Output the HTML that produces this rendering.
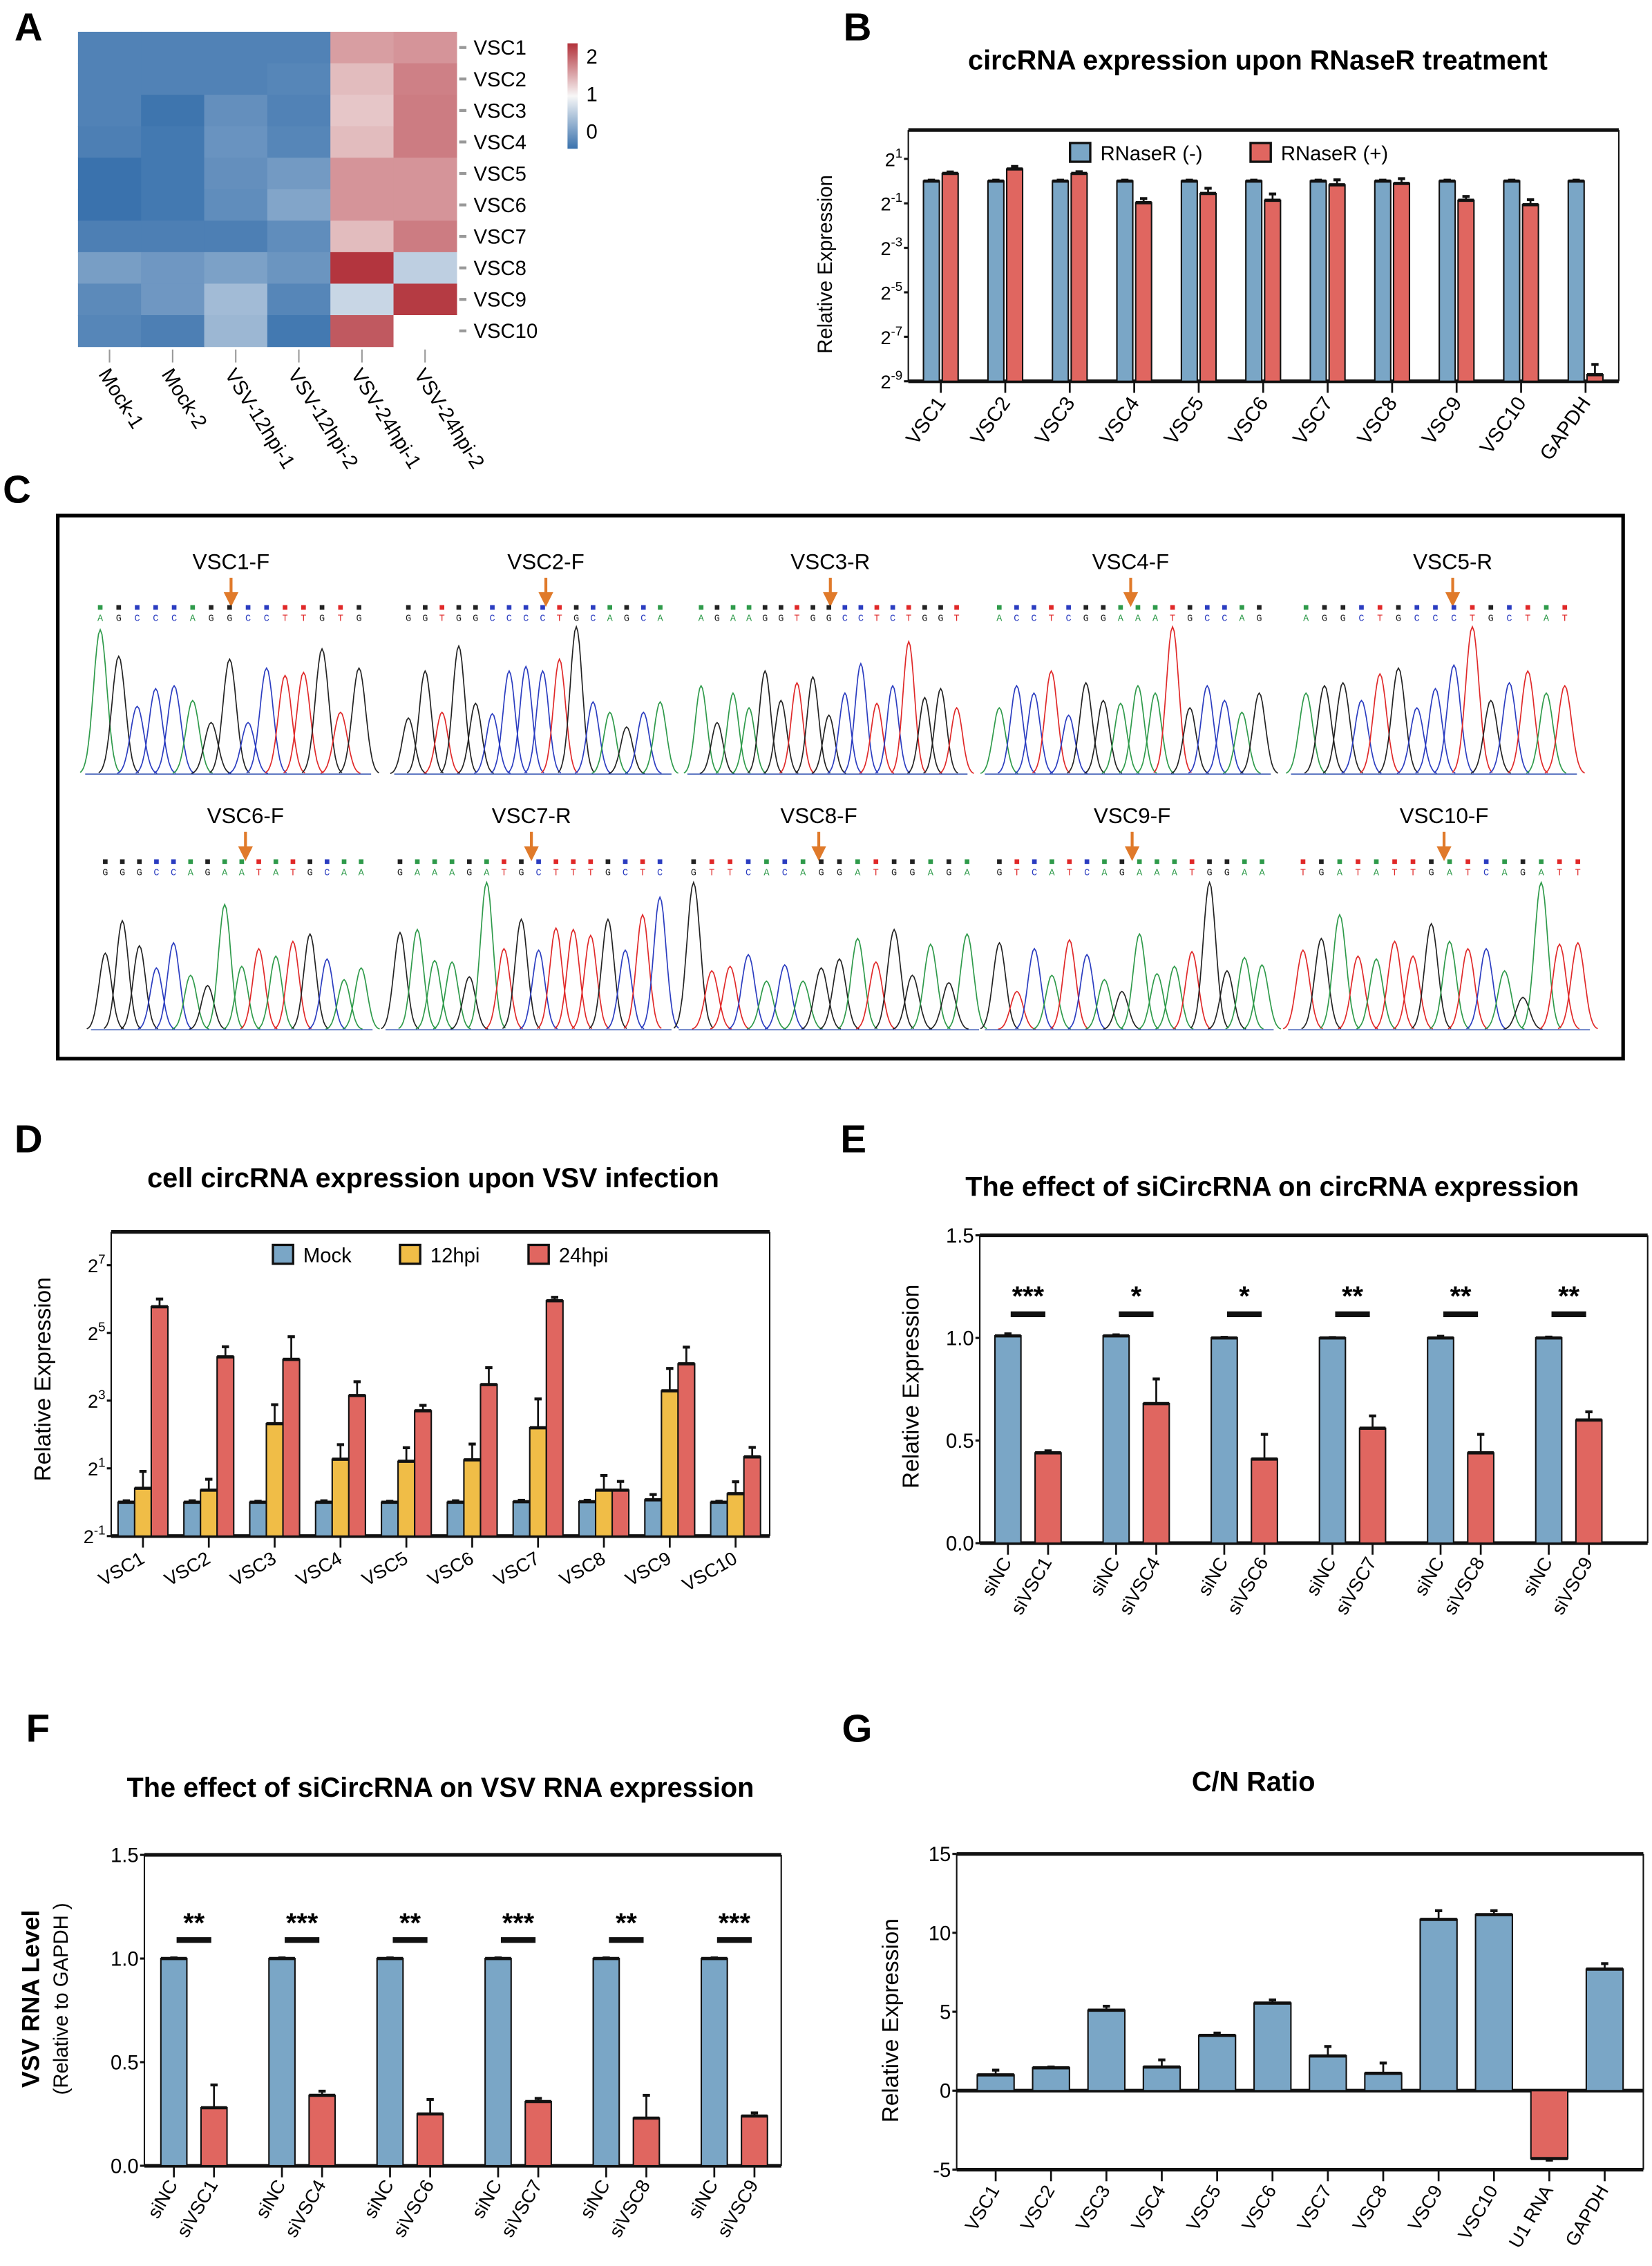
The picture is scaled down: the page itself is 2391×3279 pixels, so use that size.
<!DOCTYPE html>
<html><head><meta charset="utf-8">
<style>
html,body{margin:0;padding:0;background:#fff;}
body{width:2391px;height:3279px;overflow:hidden;}
svg{display:block;font-family:"Liberation Sans",Arial,sans-serif;}
</style></head>
<body>
<svg id="fig" width="2391" height="3279" viewBox="0 0 1144 1569" preserveAspectRatio="none" xmlns="http://www.w3.org/2000/svg">
<defs>
<linearGradient id="cbar" x1="0" y1="0" x2="0" y2="1">
<stop offset="0" stop-color="#b2313a"/><stop offset="0.5" stop-color="#f7f7f7"/><stop offset="1" stop-color="#3a72ad"/>
</linearGradient>
</defs>
<g font-weight="bold" font-size="27">
<text x="10" y="28">A</text>
<text x="584" y="28">B</text>
<text x="2" y="348">C</text>
<text x="10" y="798">D</text>
<text x="582" y="798">E</text>
<text x="18" y="1206">F</text>
<text x="583" y="1206">G</text>
</g>
<g font-weight="bold" font-size="19" text-anchor="middle">
<text x="871" y="48">circRNA expression upon RNaseR treatment</text>
<text x="300" y="822">cell circRNA expression upon VSV infection</text>
<text x="881" y="828">The effect of siCircRNA on circRNA expression</text>
<text x="305" y="1244">The effect of siCircRNA on VSV RNA expression</text>
<text x="868" y="1240">C/N Ratio</text>
</g>
<rect x="40" y="357" width="1084" height="376" fill="none" stroke="#000" stroke-width="2.5"/>
<g id="root"></g>
</svg>
<script>
// ===== Panel A heatmap data =====
const hmRows=["VSC1","VSC2","VSC3","VSC4","VSC5","VSC6","VSC7","VSC8","VSC9","VSC10"];
const hmCols=["Mock-1","Mock-2","VSV-12hpi-1","VSV-12hpi-2","VSV-24hpi-1","VSV-24hpi-2"];
const hmVals=[
[0.12,0.12,0.12,0.12,1.45,1.5],
[0.12,0.12,0.12,0.15,1.3,1.6],
[0.12,0.02,0.22,0.12,1.25,1.62],
[0.1,0.05,0.25,0.15,1.3,1.62],
[0.0,0.05,0.22,0.3,1.5,1.5],
[0.0,0.05,0.2,0.38,1.5,1.5],
[0.1,0.1,0.1,0.2,1.3,1.62],
[0.33,0.28,0.35,0.26,1.98,0.7],
[0.18,0.28,0.55,0.15,0.75,1.95],
[0.15,0.1,0.52,0.05,1.8,null]];
// ===== Panel B data =====
const bCats=["VSC1","VSC2","VSC3","VSC4","VSC5","VSC6","VSC7","VSC8","VSC9","VSC10","GAPDH"];
const bNeg=[1,1,1,1,1,1,1,1,1,1,1];
const bNegErr=[0.03,0.03,0.03,0.03,0.03,0.03,0.03,0.03,0.03,0.03,0.03];
const bPos=[1.27,1.46,1.27,0.51,0.68,0.55,0.89,0.93,0.55,0.48,0.0024];
const bPosErr=[0.06,0.12,0.07,0.07,0.12,0.12,0.15,0.15,0.07,0.08,0.0009];
const bTickExp=[1,-1,-3,-5,-7,-9];
// ===== Panel D data =====
const dCats=["VSC1","VSC2","VSC3","VSC4","VSC5","VSC6","VSC7","VSC8","VSC9","VSC10"];
const dMock=[1,1,1,1,1,1,1.01,1.01,1.05,1];
const dMockErr=[0.03,0.03,0.02,0.03,0.02,0.03,0.03,0.03,0.12,0.02];
const d12=[1.33,1.28,4.99,2.41,2.31,2.38,4.59,1.28,9.78,1.19];
const d12Err=[0.55,0.32,2.37,0.84,0.74,0.91,3.69,0.45,5.67,0.33];
const d24=[54.6,19.6,18.6,8.88,6.5,11.1,61.8,1.28,17.0,2.53];
const d24Err=[9.4,4.5,11,2.9,0.76,4.6,4.5,0.25,6.9,0.54];
const dTickExp=[7,5,3,1,-1];
// ===== Panel E data =====
const eGroups=["siVSC1","siVSC4","siVSC6","siVSC7","siVSC8","siVSC9"];
const eNC=[1.01,1.01,1.0,1.0,1.0,1.0];
const eNCErr=[0.01,0.005,0.003,0.002,0.008,0.004];
const eSi=[0.44,0.68,0.41,0.56,0.44,0.60];
const eSiErr=[0.01,0.12,0.12,0.06,0.09,0.04];
const eStars=["***","*","*","**","**","**"];
const eTicks=[0,0.5,1.0,1.5];
// ===== Panel F data =====
const fGroups=["siVSC1","siVSC4","siVSC6","siVSC7","siVSC8","siVSC9"];
const fNC=[1.0,1.0,1.0,1.0,1.0,1.0];
const fNCErr=[0.003,0.003,0.003,0.003,0.003,0.003];
const fSi=[0.28,0.34,0.25,0.31,0.23,0.24];
const fSiErr=[0.11,0.02,0.07,0.015,0.11,0.015];
const fStars=["**","***","**","***","**","***"];
const fTicks=[0,0.5,1.0,1.5];
// ===== Panel G data =====
const gCats=["VSC1","VSC2","VSC3","VSC4","VSC5","VSC6","VSC7","VSC8","VSC9","VSC10","U1 RNA","GAPDH"];
const gVals=[1.0,1.45,5.1,1.5,3.5,5.55,2.2,1.1,10.85,11.15,-4.3,7.7];
const gErr=[0.3,0.05,0.25,0.45,0.15,0.2,0.6,0.65,0.55,0.25,0.1,0.35];
const gTicks=[15,10,5,0,-5];
// ===== Panel C chromatogram data (base, relative peak height) =====
const chrLabels=["VSC1-F","VSC2-F","VSC3-R","VSC4-F","VSC5-R","VSC6-F","VSC7-R","VSC8-F","VSC9-F","VSC10-F"];
const chrBases=["AGCCCAGGCCTTGTG","GGTGGCCCCTGCAGCA","AGAAGGTGGCCTCTGGT","ACCTCGGAAATGCCAG","AGGCTGCCCTGCTAT","GGGCCAGAATATGCAA","GAAAGATGCTTTGCTC","GTTCACAGGATGGAGA","GTCATCAGAAATGGAA","TGATATTGATCAGATT"];
const chrHeights=[
[0.98,0.8,0.46,0.58,0.6,0.5,0.35,0.78,0.35,0.72,0.67,0.69,0.85,0.42,0.72],
[0.38,0.7,0.42,0.87,0.48,0.41,0.7,0.73,0.7,0.78,1,0.49,0.42,0.32,0.42,0.49],
[0.6,0.35,0.55,0.45,0.7,0.5,0.62,0.66,0.4,0.55,0.75,0.48,0.6,0.9,0.52,0.58,0.45],
[0.45,0.6,0.55,0.7,0.4,0.62,0.5,0.48,0.6,0.55,1,0.45,0.6,0.5,0.42,0.55],
[0.55,0.6,0.62,0.5,0.68,0.72,0.45,0.58,0.74,1,0.5,0.62,0.7,0.55,0.6],
[0.52,0.74,0.57,0.42,0.59,0.37,0.3,0.85,0.43,0.55,0.5,0.6,0.65,0.48,0.34,0.42],
[0.66,0.68,0.47,0.46,0.36,1,0.55,0.75,0.54,0.69,0.68,0.64,0.75,0.54,0.78,0.9],
[1,0.4,0.43,0.51,0.33,0.44,0.33,0.42,0.48,0.62,0.46,0.68,0.37,0.58,0.32,0.65],
[0.59,0.26,0.55,0.37,0.61,0.51,0.34,0.26,0.65,0.38,0.43,0.53,1,0.4,0.49,0.44],
[0.54,0.62,0.78,0.5,0.48,0.6,0.5,0.72,0.6,0.55,0.55,0.4,0.22,1,0.58,0.59]];

const NS="http://www.w3.org/2000/svg";
const root=document.getElementById('root');
function mk(tag,attrs,parent){const e=document.createElementNS(NS,tag);for(const k in attrs)e.setAttribute(k,attrs[k]);(parent||root).appendChild(e);return e;}
const BLUE="#7aa6c6",RED="#e06660",YEL="#f0bd47";

// ---------- Panel A ----------
function hmColor(v){
  if(v===null) return "#ffffff";
  const lo=[58,114,173],mid=[247,247,247],hi=[178,49,58];
  let a,b,t;
  if(v<=1){a=lo;b=mid;t=Math.max(0,v);} else {a=mid;b=hi;t=Math.min(1,v-1);}
  const c=a.map((x,i)=>Math.round(x+(b[i]-x)*t));
  return "rgb("+c.join(",")+")";
}
const hmX0=54,hmY0=22,hmCW=43.7,hmRH=21.8;
hmRows.forEach((r,i)=>{
  hmCols.forEach((c,j)=>{
    const cell=mk('rect',{x:hmX0+j*hmCW,y:hmY0+i*hmRH,width:hmCW+0.3,height:hmRH+0.3,fill:hmColor(hmVals[i][j])});
    
    
  });
  const tk=mk('line',{x1:318,x2:323,y1:hmY0+(i+0.5)*hmRH,y2:hmY0+(i+0.5)*hmRH,stroke:"#999","stroke-width":2});
  
  
  const lb=mk('text',{x:328,y:hmY0+(i+0.5)*hmRH+5,"font-size":14});
  lb.textContent=r;
  
  
});
hmCols.forEach((c,j)=>{
  const cx=hmX0+(j+0.5)*hmCW;
  const tk=mk('line',{x1:cx,x2:cx,y1:242,y2:251,stroke:"#999","stroke-width":1});
  
  
  const lb=mk('text',{x:cx-8,y:259,"font-size":14,transform:"rotate(58 "+(cx-8)+" 259)"});
  lb.textContent=c;
  
  
});
const cb=mk('rect',{x:393,y:30,width:7,height:73,fill:"url(#cbar)"});


[["2",44],["1",70],["0",96]].forEach(p=>{
  const t=mk('text',{x:406,y:p[1],"font-size":14});t.textContent=p[0];
  
  
});

// ---------- generic helpers ----------
function bar(x,w,y0,y1,fill,name){
  const r=mk('rect',{x:x-w/2,y:Math.min(y0,y1),width:w,height:Math.abs(y1-y0),fill:fill,stroke:"#111","stroke-width":1});
  
  
  const cap=mk('line',{x1:x-w/2,x2:x+w/2,y1:y1,y2:y1,stroke:"#111","stroke-width":2.2});
  
  
}
function err(x,y,ye,name){
  const l=mk('line',{x1:x,x2:x,y1:y,y2:ye,stroke:"#111","stroke-width":1.3});
  
  
  const c=mk('line',{x1:x-2.5,x2:x+2.5,y1:ye,y2:ye,stroke:"#111","stroke-width":2});
  
  
}
function line(x1,y1,x2,y2,w,name){
  const l=mk('line',{x1:x1,y1:y1,x2:x2,y2:y2,stroke:"#111","stroke-width":w});
  
  
  return l;
}
function text(x,y,s,size,opts,name){
  const a=Object.assign({x:x,y:y,"font-size":size},opts||{});
  const t=mk('text',a);t.textContent=s;
  
  
  return t;
}
function powLabel(x,y,exp,name){
  const t=mk('text',{x:x,y:y,"font-size":13,"text-anchor":"end"});
  
  
  const base=document.createElementNS(NS,'tspan');base.textContent="2";t.appendChild(base);
  const sup=document.createElementNS(NS,'tspan');sup.setAttribute('dy','-6');sup.setAttribute('font-size','9');sup.textContent=String(exp);t.appendChild(sup);
}
function legendBox(x,y,fill,label,name){
  const r=mk('rect',{x:x,y:y-7,width:14,height:13,fill:fill,stroke:"#111","stroke-width":1.6});
  
  
  text(x+21,y+5,label,14,{},name+'-label');
}

// ---------- Panel B ----------
const bL=629,bR=1121,bT=90,bB=264;
function bY(v){return bB-(Math.log2(v)+9)*15.4;}
const bStep=44.65,bX0=651.5;
line(bL,bT,bR,bT,2.5,'panel-b-top-border');
line(bL,bB,bR,bB,2.5,'panel-b-x-axis');
line(bL,bT,bL,bB,1,'panel-b-y-axis');
line(bR,bT,bR,bB,1,'panel-b-right-border');
bTickExp.forEach(e=>{
  const y=bY(Math.pow(2,e));
  line(bL-3,y,bL,y,1.5,'panel-b-y-tick');
  powLabel(bL-4,y+5,e,'panel-b-y-tick-label');
});
bCats.forEach((c,i)=>{
  const x=bX0+i*bStep;
  bar(x-6.5,11,bB,bY(bNeg[i]),BLUE,'bar-b-rnaser-neg-'+c.toLowerCase());
  err(x-6.5,bY(bNeg[i]),bY(bNeg[i]+bNegErr[i]),'errorbar-b-neg');
  bar(x+6.5,11,bB,bY(bPos[i]),RED,'bar-b-rnaser-pos-'+c.toLowerCase());
  err(x+6.5,bY(bPos[i]),bY(bPos[i]+bPosErr[i]),'errorbar-b-pos');
  line(x,bB,x,bB+8,1.3,'panel-b-x-tick');
  text(x+4,bB+15,c,14,{"text-anchor":"end",transform:"rotate(-55 "+(x+4)+" "+(bB+15)+")"},'panel-b-x-label');
});
legendBox(741,106,BLUE,"RNaseR (-)",'legend-b-rnaser-neg');
legendBox(866,106,RED,"RNaseR (+)",'legend-b-rnaser-pos');
text(576,183,"Relative Expression",14,{"text-anchor":"middle",transform:"rotate(-90 576 183)"},'panel-b-y-title');

// ---------- Panel C ----------
const chrPos=[
[63,255,434,536,160],[277,463,434,536,378],[480,668,434,536,575],[686,878,434,536,783],[898,1090,434,536,1006],
[67,256,611,713,170],[271,463,611,713,368],[474,676,611,713,567],[686,880,611,713,784],[896,1099,611,713,1000]];
const baseCol={A:"#2e9a4a",C:"#2a3cc0",G:"#222",T:"#e02828"};
chrLabels.forEach((lab,k)=>{
  const p=chrPos[k],x0=p[0],x1=p[1],yt=p[2],yb=p[3],lx=p[4];
  const top=k<5;
  const ly=top?394:570;
  text(lx,ly,lab,15,{"text-anchor":"middle"},'chromatogram-label-'+lab.toLowerCase());
  const ay0=ly+6,ay1=ly+24;
  const arrow=mk('path',{d:"M"+lx+" "+ay0+"V"+(ay1-6)+"M"+(lx-3.5)+" "+(ay1-7)+"L"+lx+" "+ay1+"L"+(lx+3.5)+" "+(ay1-7)+"Z",stroke:"#e07a2a","stroke-width":2,fill:"#e07a2a"});
  
  
  const bases=chrBases[k],hs=chrHeights[k],n=bases.length;
  const step=(x1-x0)/n;
  const g=mk('g',{});
  
  
  for(let i=0;i<n;i++){
    const b=bases[i],cx=x0+step*(i+0.5),col=baseCol[b];
    const sq=mk('rect',{x:cx-1.6,y:ay1+1,width:3.2,height:3.2,fill:col},g);
    
    
    const bt=mk('text',{x:cx,y:ay1+12,"font-size":6.5,"text-anchor":"middle",fill:col,"font-family":"Liberation Mono, monospace"},g);
    bt.textContent=b;
    
    
    const h=hs[i]*(yb-yt),sig=step*0.36;
    let d="";
    for(let s=-3;s<=3;s+=0.25){
      const xx=cx+s*sig,yy=yb-h*Math.exp(-s*s/2);
      d+=(s===-3?"M":"L")+xx.toFixed(1)+" "+yy.toFixed(1);
    }
    const pk=mk('path',{d:d,fill:"none",stroke:col,"stroke-width":0.8},g);
    
    
  }
  const bl=mk('line',{x1:x0-4,x2:x1+2,y1:yb,y2:yb,stroke:"#3050b0","stroke-width":0.7},g);
  
  
});

// ---------- Panel D ----------
const dL=77,dR=533,dT=853,dB=1063.6;
function dY(v){return dB-(Math.log2(v)+1)*23.45;}
const dStep=45.6,dX0=99;
line(dL,dT,dR,dT,2.5,'panel-d-top-border');
line(dL,dB,dR,dB,2.5,'panel-d-x-axis');
line(dL,dT,dL,dB,1,'panel-d-y-axis');
line(dR,dT,dR,dB,1,'panel-d-right-border');
dTickExp.forEach(e=>{
  const y=dY(Math.pow(2,e));
  line(dL-3,y,dL,y,1.5,'panel-d-y-tick');
  powLabel(dL-4,y+5,e,'panel-d-y-tick-label');
});
dCats.forEach((c,i)=>{
  const x=dX0+i*dStep;
  bar(x-11.5,11.5,dB,dY(dMock[i]),BLUE,'bar-d-mock-'+c.toLowerCase());
  err(x-11.5,dY(dMock[i]),dY(dMock[i]+dMockErr[i]),'errorbar-d-mock');
  bar(x,11.5,dB,dY(d12[i]),YEL,'bar-d-12hpi-'+c.toLowerCase());
  err(x,dY(d12[i]),dY(d12[i]+d12Err[i]),'errorbar-d-12hpi');
  bar(x+11.5,11.5,dB,dY(d24[i]),RED,'bar-d-24hpi-'+c.toLowerCase());
  err(x+11.5,dY(d24[i]),dY(d24[i]+d24Err[i]),'errorbar-d-24hpi');
  line(x,dB,x,dB+8,1.3,'panel-d-x-tick');
  text(x+2,dB+18,c,13,{"text-anchor":"end",transform:"rotate(-30 "+(x+2)+" "+(dB+18)+")"},'panel-d-x-label');
});
legendBox(189,869,BLUE,"Mock",'legend-d-mock');
legendBox(277,869,YEL,"12hpi",'legend-d-12hpi');
legendBox(366,869,RED,"24hpi",'legend-d-24hpi');
text(35,955,"Relative Expression",16,{"text-anchor":"middle",transform:"rotate(-90 35 955)"},'panel-d-y-title');

// ---------- Panels E & F ----------
function pairChart(cfg){
  const {L,R,T,B,unit,ticks,groups,nc,ncErr,si,siErr,stars,x0,step,starY,sigY,pfx}=cfg;
  const Y=v=>B-v*unit;
  line(L,T,R,T,2.5,pfx+'-top-border');
  line(L,B,R,B,2.5,pfx+'-x-axis');
  line(L,T,L,B,1,pfx+'-y-axis');
  line(R,T,R,B,1,pfx+'-right-border');
  ticks.forEach(t=>{
    line(L-3,Y(t),L,Y(t),1.5,pfx+'-y-tick');
    text(L-4,Y(t)+5,t.toFixed(1),14,{"text-anchor":"end"},pfx+'-y-tick-label');
  });
  groups.forEach((g,i)=>{
    const xa=x0+i*step,xb=xa+27.8;
    bar(xa,18,B,Y(nc[i]),BLUE,'bar-'+pfx+'-sinc-'+(i+1));
    err(xa,Y(nc[i]),Y(nc[i]+ncErr[i]),'errorbar-'+pfx+'-sinc');
    bar(xb,18,B,Y(si[i]),RED,'bar-'+pfx+'-'+g.toLowerCase());
    err(xb,Y(si[i]),Y(si[i]+siErr[i]),'errorbar-'+pfx+'-si');
    line(xa,B,xa,B+8,1.3,pfx+'-x-tick');
    line(xb,B,xb,B+8,1.3,pfx+'-x-tick');
    text(xa+3,B+13,"siNC",13,{"text-anchor":"end",transform:"rotate(-60 "+(xa+3)+" "+(B+13)+")"},pfx+'-x-label-sinc');
    text(xb+3,B+13,g,13,{"text-anchor":"end",transform:"rotate(-60 "+(xb+3)+" "+(B+13)+")"},pfx+'-x-label-'+g.toLowerCase());
    const mx=(xa+xb)/2;
    line(mx-12,sigY,mx+12,sigY,4,pfx+'-significance-bar');
    text(mx,starY,stars[i],19,{"text-anchor":"middle","font-weight":"bold"},pfx+'-significance-stars');
  });
}
pairChart({L:678.5,R:1141,T:855.3,B:1068.5,unit:142.1,ticks:eTicks,groups:eGroups,nc:eNC,ncErr:eNCErr,si:eSi,siErr:eSiErr,stars:eStars,x0:698,step:74.9,starY:904,sigY:910,pfx:'e'});
text(636,960,"Relative Expression",16,{"text-anchor":"middle",transform:"rotate(-90 636 960)"},'panel-e-y-title');
pairChart({L:100,R:541,T:1284.3,B:1499.6,unit:143.5,ticks:fTicks,groups:fGroups,nc:fNC,ncErr:fNCErr,si:fSi,siErr:fSiErr,stars:fStars,x0:120.4,step:74.85,starY:1338,sigY:1343.3,pfx:'f'});
const fy=mk('text',{x:0,y:0,"text-anchor":"middle",transform:"translate(27 1384) rotate(-90)"});


const fy1=document.createElementNS(NS,'tspan');fy1.setAttribute('font-size','17');fy1.setAttribute('font-weight','bold');fy1.setAttribute('x','0');fy1.textContent="VSV RNA Level";fy.appendChild(fy1);
const fy2=document.createElementNS(NS,'tspan');fy2.setAttribute('font-size','14');fy2.setAttribute('x','0');fy2.setAttribute('dy','20');fy2.textContent="(Relative to GAPDH )";fy.appendChild(fy2);

// ---------- Panel G ----------
const gL=662.5,gR=1138,gT=1283.7,gB=1502.3,gU=10.93;
function gY(v){return 1447.6-v*gU;}
const gStep=38.34,gX0=689.5;
line(gL,gT,gR,gT,2.5,'panel-g-top-border');
line(gL,gB,gR,gB,2.5,'panel-g-bottom-border');
line(gL,gY(0),gR,gY(0),2.5,'panel-g-zero-line');
line(gL,gT,gL,gB,1,'panel-g-y-axis');
line(gR,gT,gR,gB,1,'panel-g-right-border');
gTicks.forEach(t=>{
  line(gL-3,gY(t),gL,gY(t),1.5,'panel-g-y-tick');
  text(gL-4,gY(t)+5,String(t),14,{"text-anchor":"end"},'panel-g-y-tick-label');
});
gCats.forEach((c,i)=>{
  const x=gX0+i*gStep,v=gVals[i];
  bar(x,25.5,gY(0),gY(v),v<0?RED:BLUE,'bar-g-'+c.toLowerCase().replace(' ','-'));
  err(x,gY(v),gY(v+(v<0?-gErr[i]:gErr[i])),'errorbar-g');
  line(x,gB,x,gB+8,1.3,'panel-g-x-tick');
  text(x+3,gB+14,c,13,{"text-anchor":"end",transform:"rotate(-60 "+(x+3)+" "+(gB+14)+")"},'panel-g-x-label');
});
text(622,1399,"Relative Expression",16,{"text-anchor":"middle",transform:"rotate(-90 622 1399)"},'panel-g-y-title');
</script>
</body></html>
